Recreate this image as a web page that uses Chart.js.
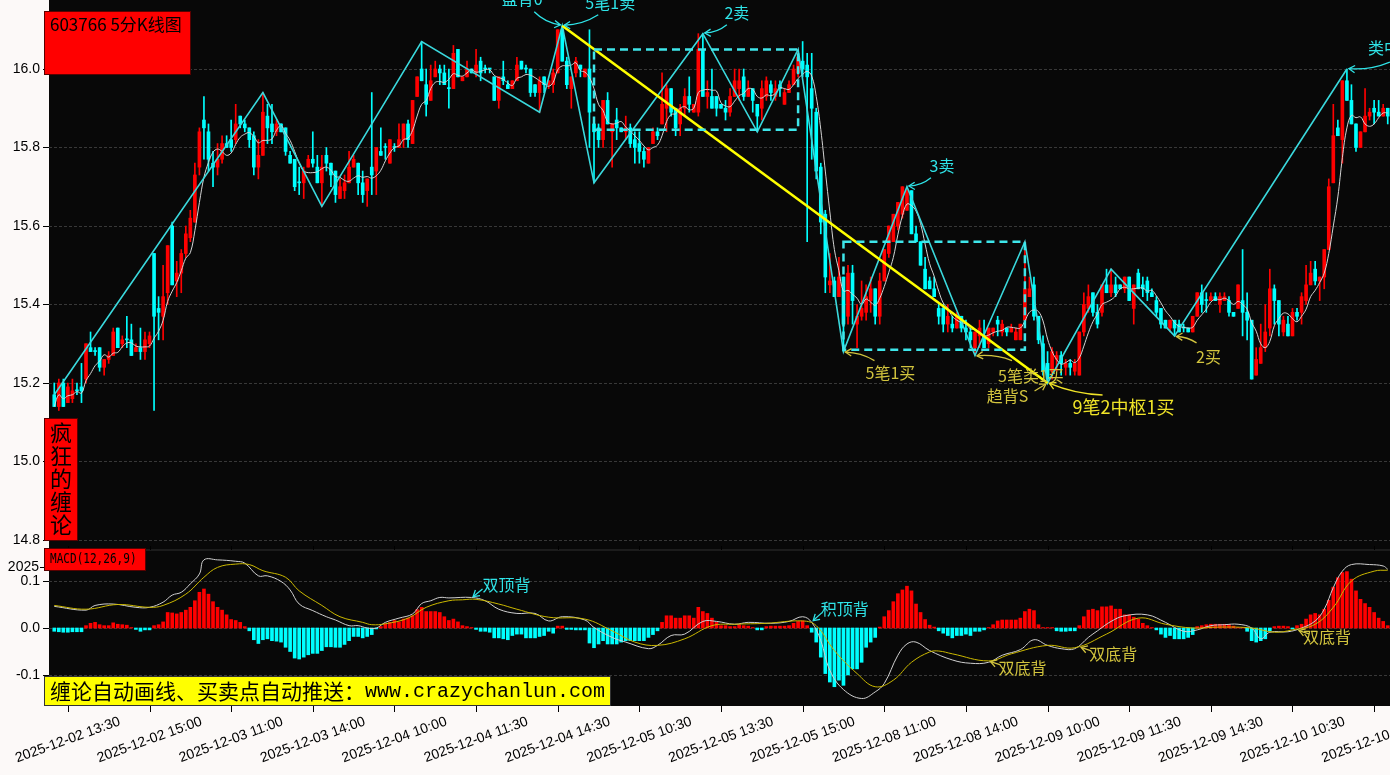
<!DOCTYPE html>
<html>
<head>
<meta charset="utf-8">
<title>603766 5分K线图</title>
<script src="https://cdn.jsdelivr.net/npm/chart.js@4.4.1/dist/chart.umd.min.js"></script>
<style>
  html, body { margin: 0; padding: 0; background: #fcf9f8; }
  #box { width: 1390px; height: 775px; }
</style>
</head>
<body>
<div id="box"><canvas id="kline" width="1390" height="775"></canvas></div>
<script>
// 603766 5-minute K-line, 2025-12-02 13:15 .. 2025-12-10 13:45

var days = ['2025-12-02', '2025-12-03', '2025-12-04', '2025-12-05', '2025-12-08', '2025-12-09', '2025-12-10'];

var opens = [
  15.17,15.14,15.20,15.15,15.16,15.18,15.19,15.21,15.29,15.28,15.29,15.24,15.26,15.27,15.34,15.30,15.31,15.31,15.28,15.29,15.28,15.30,
  15.53,15.39,15.37,15.43,15.60,15.46,15.48,15.53,15.57,15.61,15.75,15.87,15.84,15.76,15.75,15.77,15.81,15.82,15.82,15.88,15.86,15.85,15.83,15.75,
  15.78,15.88,15.86,15.84,15.86,15.85,15.78,15.77,15.71,15.71,15.75,15.77,15.75,15.71,15.78,15.76,15.74,15.67,15.69,15.71,15.75,15.76,15.71,15.69,
  15.75,15.74,15.79,15.80,15.76,15.80,15.80,15.82,15.86,15.81,15.93,16.00,15.96,15.92,15.98,16.00,15.99,15.95,15.95,16.05,15.97,15.98,16.00,15.99,
  16.02,16.00,16.00,15.98,15.92,15.98,15.96,15.95,15.97,16.02,16.00,16.00,15.96,15.94,15.98,15.96,15.96,15.99,16.10,16.02,15.95,15.99,16.01,15.98,
  16.00,15.86,15.85,15.82,15.92,15.84,15.87,15.85,15.84,15.85,15.82,15.81,15.79,15.76,15.81,15.84,15.86,15.90,15.95,15.90,15.86,15.90,15.93,15.89,
  15.89,16.05,15.93,15.93,15.93,15.91,15.90,15.89,15.93,15.95,15.98,15.93,15.95,15.91,15.90,15.93,15.96,15.93,15.96,15.91,15.94,15.96,15.99,16.02,
  16.01,15.95,15.89,15.75,15.63,15.45,15.46,15.42,15.47,15.37,15.48,15.35,15.37,15.38,15.41,15.44,15.37,15.46,15.53,15.56,15.60,15.63,15.64,15.69,
  15.58,15.56,15.49,15.46,15.44,15.39,15.39,15.35,15.35,15.34,15.37,15.34,15.33,15.29,15.32,15.32,15.30,15.33,15.36,15.33,15.34,15.33,15.31,15.31,
  15.36,15.42,15.45,15.37,15.30,15.25,15.23,15.26,15.27,15.24,15.25,15.23,15.22,15.33,15.39,15.43,15.38,15.38,15.45,15.43,15.45,15.45,15.44,15.47,
  15.39,15.48,15.45,15.46,15.43,15.41,15.39,15.36,15.34,15.36,15.35,15.34,15.34,15.33,15.37,15.43,15.41,15.41,15.42,15.40,15.41,15.41,15.38,15.39,
  15.41,15.38,15.36,15.22,15.25,15.29,15.34,15.44,15.41,15.33,15.35,15.32,15.38,15.38,15.41,15.45,15.49,15.46,15.47,15.54,15.71,15.85,15.82,15.97,
  15.92,15.86,15.80,15.84,15.88,15.90,15.89,15.88,15.90
];
var highs = [
  15.20,15.21,15.21,15.20,15.21,15.20,15.25,15.30,15.33,15.29,15.29,15.26,15.28,15.34,15.34,15.32,15.37,15.35,15.30,15.34,15.33,15.33,
  15.53,15.42,15.50,15.55,15.61,15.51,15.54,15.60,15.64,15.76,15.85,15.93,15.86,15.79,15.81,15.83,15.83,15.87,15.91,15.88,15.87,15.85,15.84,15.82,
  15.94,15.91,15.91,15.87,15.86,15.85,15.79,15.77,15.75,15.75,15.78,15.84,15.78,15.78,15.80,15.76,15.74,15.72,15.73,15.79,15.78,15.76,15.74,15.72,
  15.94,15.80,15.85,15.81,15.82,15.81,15.86,15.86,15.87,15.92,15.98,16.07,16.00,16.01,16.02,16.01,16.01,16.00,16.06,16.05,15.98,16.02,16.00,16.05,
  16.03,16.01,16.00,15.98,15.98,16.02,15.97,15.97,16.03,16.02,16.01,16.00,15.96,15.98,15.98,15.97,16.00,16.10,16.11,16.03,15.98,16.03,16.01,16.00,
  16.10,15.86,15.86,15.92,15.94,15.86,15.90,15.85,15.88,15.86,15.84,15.84,15.80,15.80,15.85,15.85,15.99,15.96,15.95,15.90,15.91,15.95,15.98,15.91,
  16.09,16.09,15.97,16.00,15.93,15.91,15.92,15.95,16.00,16.00,16.00,15.97,15.95,15.91,15.97,15.98,15.97,15.97,15.97,15.95,15.97,16.01,16.05,16.07,
  16.04,16.04,15.90,15.76,15.64,15.53,15.47,15.52,15.47,15.50,15.50,15.40,15.46,15.45,15.47,15.44,15.48,15.54,15.60,15.63,15.66,15.70,15.70,15.69,
  15.60,15.56,15.52,15.47,15.47,15.40,15.40,15.40,15.37,15.38,15.37,15.36,15.34,15.33,15.36,15.36,15.34,15.34,15.37,15.36,15.34,15.35,15.34,15.35,
  15.56,15.47,15.47,15.37,15.32,15.28,15.29,15.28,15.28,15.26,15.26,15.26,15.33,15.43,15.45,15.43,15.40,15.45,15.49,15.49,15.47,15.45,15.47,15.47,
  15.45,15.49,15.47,15.47,15.44,15.42,15.39,15.36,15.36,15.36,15.36,15.35,15.34,15.37,15.43,15.45,15.43,15.43,15.43,15.43,15.43,15.42,15.38,15.45,
  15.54,15.43,15.36,15.29,15.35,15.40,15.49,15.45,15.41,15.37,15.37,15.39,15.39,15.43,15.50,15.51,15.51,15.47,15.54,15.72,15.91,15.87,15.97,16.00,
  15.96,15.86,15.84,15.95,15.90,15.92,15.92,15.91,15.90
];
var lows = [
  15.14,15.13,15.14,15.15,15.15,15.17,15.15,15.20,15.28,15.27,15.23,15.22,15.25,15.27,15.29,15.29,15.29,15.27,15.28,15.26,15.26,15.29,
  15.13,15.31,15.31,15.40,15.45,15.42,15.43,15.52,15.56,15.61,15.73,15.77,15.74,15.70,15.73,15.76,15.80,15.79,15.81,15.85,15.84,15.80,15.73,15.72,
  15.78,15.81,15.81,15.83,15.84,15.78,15.76,15.69,15.68,15.67,15.75,15.75,15.71,15.65,15.74,15.70,15.66,15.67,15.67,15.71,15.75,15.68,15.66,15.65,
  15.68,15.68,15.78,15.77,15.76,15.79,15.80,15.80,15.80,15.81,15.93,15.97,15.88,15.92,15.98,15.96,15.96,15.90,15.95,15.98,15.97,15.98,15.99,15.98,
  15.97,15.99,15.99,15.92,15.90,15.96,15.95,15.95,15.97,16.00,15.99,15.93,15.93,15.89,15.94,15.95,15.94,15.99,16.02,15.95,15.90,15.98,15.98,15.98,
  15.80,15.71,15.80,15.80,15.86,15.75,15.82,15.84,15.82,15.80,15.76,15.76,15.75,15.76,15.81,15.82,15.86,15.84,15.88,15.83,15.83,15.88,15.89,15.89,
  15.88,15.93,15.90,15.90,15.88,15.90,15.87,15.88,15.93,15.92,15.92,15.93,15.89,15.84,15.87,15.92,15.92,15.92,15.93,15.91,15.94,15.96,15.98,15.98,
  15.56,15.77,15.72,15.58,15.43,15.43,15.42,15.42,15.28,15.35,15.35,15.29,15.36,15.36,15.38,15.35,15.35,15.46,15.52,15.56,15.59,15.62,15.64,15.58,
  15.56,15.50,15.44,15.44,15.42,15.35,15.33,15.33,15.33,15.34,15.33,15.31,15.29,15.27,15.29,15.29,15.29,15.32,15.32,15.32,15.32,15.33,15.31,15.31,
  15.36,15.42,15.36,15.30,15.22,15.20,15.21,15.23,15.22,15.22,15.22,15.22,15.22,15.32,15.38,15.37,15.34,15.37,15.43,15.42,15.42,15.44,15.43,15.41,
  15.35,15.44,15.42,15.41,15.42,15.37,15.34,15.34,15.33,15.32,15.33,15.33,15.33,15.33,15.37,15.38,15.38,15.41,15.41,15.38,15.41,15.37,15.37,15.39,
  15.32,15.31,15.21,15.22,15.25,15.28,15.32,15.35,15.32,15.32,15.32,15.32,15.36,15.35,15.40,15.45,15.45,15.41,15.44,15.54,15.71,15.83,15.76,15.92,
  15.86,15.79,15.80,15.84,15.87,15.86,15.88,15.88,15.86
];
var closes = [
  15.14,15.20,15.14,15.19,15.18,15.18,15.18,15.30,15.28,15.28,15.24,15.26,15.27,15.33,15.29,15.31,15.31,15.27,15.29,15.28,15.31,15.32,
  15.37,15.38,15.42,15.55,15.45,15.48,15.53,15.58,15.62,15.73,15.84,15.85,15.77,15.75,15.77,15.81,15.80,15.80,15.86,15.86,15.85,15.82,15.75,15.78,
  15.89,15.85,15.84,15.86,15.84,15.79,15.76,15.70,15.71,15.74,15.77,15.76,15.71,15.75,15.76,15.73,15.68,15.70,15.71,15.75,15.77,15.71,15.68,15.72,
  15.73,15.80,15.78,15.80,15.82,15.80,15.82,15.86,15.82,15.92,15.98,15.97,15.91,15.97,16.00,15.99,15.96,15.95,16.04,15.98,15.98,16.00,15.99,16.01,
  15.99,16.00,16.00,15.92,15.98,15.97,15.95,15.97,16.01,16.00,16.00,15.94,15.94,15.97,15.96,15.97,15.99,16.10,16.02,15.96,15.98,16.02,16.00,16.00,
  15.89,15.84,15.82,15.92,15.86,15.86,15.85,15.84,15.85,15.81,15.80,15.79,15.77,15.80,15.84,15.83,15.91,15.95,15.89,15.85,15.90,15.93,15.91,15.91,
  16.05,15.93,15.94,15.90,15.90,15.90,15.89,15.93,15.97,15.97,15.93,15.95,15.92,15.88,15.95,15.97,15.94,15.95,15.95,15.94,15.96,16.00,16.03,16.00,
  15.98,15.90,15.74,15.61,15.47,15.46,15.42,15.47,15.35,15.48,15.41,15.37,15.39,15.42,15.44,15.37,15.46,15.54,15.60,15.63,15.66,15.70,15.69,15.58,
  15.56,15.50,15.44,15.44,15.42,15.37,15.35,15.37,15.34,15.37,15.34,15.33,15.31,15.33,15.34,15.29,15.34,15.34,15.35,15.35,15.33,15.34,15.33,15.35,
  15.44,15.44,15.37,15.31,15.23,15.21,15.28,15.27,15.25,15.25,15.24,15.25,15.33,15.40,15.42,15.38,15.35,15.45,15.43,15.45,15.43,15.44,15.47,15.41,
  15.45,15.44,15.44,15.43,15.42,15.38,15.35,15.34,15.36,15.34,15.33,15.34,15.33,15.37,15.43,15.40,15.41,15.42,15.41,15.42,15.42,15.38,15.37,15.45,
  15.38,15.36,15.21,15.26,15.29,15.33,15.44,15.41,15.35,15.36,15.32,15.38,15.37,15.42,15.45,15.48,15.46,15.47,15.54,15.70,15.83,15.83,15.97,15.92,
  15.86,15.80,15.84,15.88,15.89,15.89,15.88,15.90,15.88
];

// 笔 (zigzag) vertices, bar index and price
var biBars = [0, 46, 59, 81, 107, 112, 119, 143, 155, 164, 174, 188, 203, 214, 219, 233, 247, 285];
var biVals = [15.17, 15.94, 15.65, 16.07, 15.89, 16.11, 15.71, 16.09, 15.84, 16.05, 15.28, 15.70, 15.27, 15.56, 15.20, 15.49, 15.32, 16.00];
// yellow trend segment
var trendBars = [112, 219];
var trendVals = [16.11, 15.20];
// 中枢 boxes: first bar, last bar, top, bottom
var hubBoxes = [[119, 164, 16.05, 15.845], [174, 214, 15.56, 15.285]];

var macdHist = [
  -0.007,-0.008,-0.009,-0.009,-0.008,-0.008,-0.008,0.005,0.010,0.012,0.007,0.005,0.005,0.011,0.008,0.007,0.006,0.001,-0.003,-0.007,-0.004,-0.004,
  0.005,0.007,0.013,0.033,0.032,0.030,0.033,0.038,0.044,0.058,0.076,0.083,0.072,0.056,0.044,0.038,0.028,0.018,0.016,0.012,0.003,-0.006,-0.025,-0.033,
  -0.025,-0.023,-0.027,-0.028,-0.030,-0.041,-0.050,-0.064,-0.066,-0.062,-0.057,-0.054,-0.054,-0.048,-0.040,-0.040,-0.041,-0.041,-0.035,-0.027,-0.018,-0.018,-0.021,-0.018,
  -0.014,-0.002,0.003,0.009,0.012,0.016,0.013,0.019,0.021,0.026,0.039,0.044,0.035,0.035,0.035,0.033,0.024,0.016,0.019,0.013,0.005,0.003,0.001,-0.003,
  -0.007,-0.007,-0.009,-0.021,-0.021,-0.023,-0.025,-0.016,-0.013,-0.013,-0.021,-0.021,-0.021,-0.018,-0.016,-0.007,-0.011,0.004,0.004,-0.003,-0.003,-0.004,-0.004,-0.004,
  -0.032,-0.042,-0.034,-0.027,-0.034,-0.034,-0.034,-0.030,-0.027,-0.027,-0.027,-0.027,-0.027,-0.020,-0.014,-0.006,0.012,0.026,0.026,0.021,0.021,0.026,0.026,0.021,
  0.044,0.035,0.031,0.021,0.012,0.005,0.005,0.003,0.003,0.007,0.005,0.004,0.001,-0.004,-0.004,0.003,0.004,0.004,0.004,0.004,0.005,0.010,0.014,0.015,
  0.005,-0.009,-0.030,-0.062,-0.097,-0.115,-0.125,-0.111,-0.122,-0.100,-0.087,-0.087,-0.073,-0.041,-0.030,-0.020,0.002,0.024,0.037,0.056,0.073,0.081,0.089,0.079,
  0.051,0.033,0.018,0.006,0.002,-0.006,-0.011,-0.016,-0.021,-0.016,-0.016,-0.013,-0.016,-0.007,-0.007,-0.004,0.001,0.007,0.015,0.017,0.017,0.017,0.017,0.021,
  0.035,0.040,0.037,0.007,0.001,0.001,0.001,-0.006,-0.007,-0.007,-0.006,-0.006,0.005,0.024,0.038,0.040,0.037,0.045,0.045,0.047,0.040,0.040,0.028,0.028,
  0.023,0.019,0.010,0.005,0.001,-0.004,-0.013,-0.020,-0.016,-0.023,-0.023,-0.023,-0.020,-0.014,0.003,0.005,0.007,0.008,0.008,0.008,0.008,0.007,0.004,0.001,
  0.001,-0.007,-0.027,-0.030,-0.027,-0.023,-0.006,0.003,0.004,0.004,0.003,-0.002,0.005,0.008,0.019,0.028,0.031,0.028,0.040,0.059,0.087,0.107,0.118,0.120,
  0.104,0.079,0.061,0.052,0.044,0.033,0.021,0.014,0.005
];
// DIF / DEA at these bars
var difBars = [0,7,9,13,18,21,24,26,28,30,32,33,36,40,42,45,47,50,52,54,57,60,62,65,67,69,71,73,76,79,81,83,85,87,92,95,98,102,106,109,112,117,119,123,126,131,133,136,139,143,146,150,153,158,162,165,167,169,171,174,178,181,183,186,188,190,193,198,202,206,209,213,216,219,222,225,228,230,233,236,241,245,249,252,255,258,261,264,266,268,272,275,278,280,282,284,286,290,293,294];
var difVals = [0.046,0.038,0.048,0.051,0.044,0.044,0.055,0.070,0.076,0.094,0.115,0.145,0.145,0.142,0.138,0.111,0.111,0.099,0.081,0.051,0.037,0.024,0.017,0.005,0.005,0.000,0.000,0.012,0.021,0.030,0.052,0.058,0.065,0.064,0.065,0.058,0.040,0.031,0.031,0.015,0.024,0.017,0.001,-0.020,-0.030,-0.044,-0.037,-0.016,-0.013,0.014,0.014,0.008,0.012,0.010,0.014,0.024,0.012,-0.027,-0.090,-0.131,-0.150,-0.136,-0.118,-0.058,-0.034,-0.030,-0.048,-0.068,-0.075,-0.073,-0.058,-0.046,-0.025,-0.037,-0.044,-0.044,-0.020,-0.006,0.014,0.026,0.028,0.012,-0.007,-0.004,0.005,0.007,0.008,0.000,-0.023,-0.009,-0.008,0.000,0.015,0.040,0.086,0.121,0.135,0.135,0.132,0.125];
var deaBars = [0,7,14,21,24,29,33,36,40,43,46,51,54,59,63,68,70,73,78,82,87,90,93,98,102,109,117,123,128,133,139,145,150,157,165,168,172,177,181,185,189,193,195,198,206,211,219,225,232,239,245,251,257,264,269,273,278,282,286,291,294];
var deaVals = [0.048,0.040,0.050,0.044,0.048,0.072,0.108,0.129,0.136,0.135,0.122,0.108,0.079,0.048,0.024,0.012,0.007,0.009,0.021,0.044,0.058,0.060,0.061,0.051,0.040,0.023,0.019,-0.006,-0.030,-0.037,-0.023,0.005,0.008,0.010,0.015,0.005,-0.048,-0.097,-0.125,-0.111,-0.073,-0.051,-0.049,-0.055,-0.070,-0.055,-0.037,-0.042,-0.013,0.021,0.008,0.000,0.002,0.000,-0.009,-0.004,0.008,0.044,0.100,0.121,0.123];

var priceTicks = [14.8, 15.0, 15.2, 15.4, 15.6, 15.8, 16.0];
var macdTicks = [0.1, 0.0, -0.1];
var tickStart = 3, tickStep = 18;

(function () {
  "use strict";

  var N = closes.length;
  var named = {opens: opens, highs: highs, lows: lows, macdHist: macdHist};
  Object.keys(named).forEach(function (k) {
    if (named[k].length !== N) throw new Error(k + ' has ' + named[k].length + ' values, closes has ' + N);
  });
  if (difBars.length !== difVals.length) throw new Error('dif ' + difBars.length + '/' + difVals.length);
  if (deaBars.length !== deaVals.length) throw new Error('dea ' + deaBars.length + '/' + deaVals.length);

  function pad(n) { return (n < 10 ? '0' : '') + n; }

  // 5-minute bars: 09:35-11:30 and 13:05-15:00, first day starts at 13:15
  function buildLabels() {
    var mins = [], m;
    for (m = 575; m <= 690; m += 5) mins.push(m);
    for (m = 785; m <= 900; m += 5) mins.push(m);
    var out = [];
    days.forEach(function (d, k) {
      mins.forEach(function (t) {
        if (k === 0 && t < 795) return;
        out.push(d + ' ' + pad(Math.floor(t / 60)) + ':' + pad(t % 60));
      });
    });
    return out.slice(0, N);
  }

  function sparse(bars, vals) {
    var out = [];
    for (var i = 0; i < N; i++) out.push(null);
    bars.forEach(function (b, k) { out[b] = vals[k]; });
    return out;
  }

  var labels = buildLabels();
  var RED = '#ff0000', CYAN = '#00ffff';
  var candleColor = closes.map(function (c, i) { return c > opens[i] ? RED : CYAN; });
  var bodies = opens.map(function (o, i) { return [Math.min(o, closes[i]), Math.max(o, closes[i])]; });
  var wicks = lows.map(function (l, i) { return [l, highs[i]]; });
  var ma5 = closes.map(function (c, i) {
    var s = 0, n = 0;
    for (var j = Math.max(0, i - 4); j <= i; j++) { s += closes[j]; n++; }
    return s / n;
  });
  var histColor = macdHist.map(function (v) { return v >= 0 ? RED : CYAN; });

  var T_CYAN = '#2fe4e8', T_YEL = '#d2c43e', T_YEL2 = '#f0e428';
  var CJK = '"Noto Sans CJK SC", "Noto Sans", sans-serif';
  var AXF = '14px "Liberation Sans", Arial, sans-serif';

  // text labels with arrows; offsets are pixels from the anchor point
  var notes = [
    {t: '盘背0', bar: 112, v: 16.11, ax: 'y', tx: -40, ty: -27, sx: -28, sy: -14, bend: 5, c: T_CYAN, f: 16},
    {t: '5笔1卖', bar: 112, v: 16.11, ax: 'y', tx: 48, ty: -23, sx: 36, sy: -11, bend: -5, c: T_CYAN, f: 16},
    {t: '2卖', bar: 143, v: 16.09, ax: 'y', tx: 34, ty: -21, sx: 24, sy: -9, bend: -4, c: T_CYAN, f: 16},
    {t: '3卖', bar: 188, v: 15.70, ax: 'y', tx: 35, ty: -21, sx: 24, sy: -9, bend: -4, c: T_CYAN, f: 16},
    {t: '5笔1买', bar: 174, v: 15.28, ax: 'y', tx: 47, ty: 21, sx: 31, sy: 9, bend: 4, c: T_YEL, f: 16},
    {t: '5笔类1买', bar: 203, v: 15.27, ax: 'y', tx: 56, ty: 20, sx: 37, sy: 5, bend: 4, c: T_YEL, f: 16},
    {t: '趋背S', bar: 219, v: 15.20, ax: 'y', tx: -40, ty: 13, sx: -13, sy: 8, bend: 0, c: T_YEL, f: 16},
    {t: '9笔2中枢1买', bar: 219, v: 15.20, ax: 'y', tx: 76, ty: 24, sx: 55, sy: 12, bend: -5, c: T_YEL2, f: 18},
    {t: '2买', bar: 247, v: 15.32, ax: 'y', tx: 34, ty: 21, sx: 22, sy: 7, bend: 3, c: T_YEL, f: 16},
    {t: '类中枢1卖', bar: 285, v: 16.00, ax: 'y', tx: 21, ty: -21, sx: 43, sy: -7, bend: -5, c: T_CYAN, f: 16, left: true},
    {t: '双顶背', bar: 92, v: 0.064, ax: 'y2', tx: 35, ty: -13, sx: 11, sy: -9, bend: 0, c: T_CYAN, f: 16},
    {t: '积顶背', bar: 167, v: 0.013, ax: 'y2', tx: 33, ty: -13, sx: 10, sy: -9, bend: 0, c: T_CYAN, f: 16},
    {t: '双底背', bar: 206, v: -0.070, ax: 'y2', tx: 34, ty: 7, sx: 12, sy: 4, bend: 0, c: T_YEL, f: 16},
    {t: '双底背', bar: 226, v: -0.040, ax: 'y2', tx: 34, ty: 7, sx: 12, sy: 4, bend: 0, c: T_YEL, f: 16},
    {t: '双底背', bar: 274, v: -0.004, ax: 'y2', tx: 30, ty: 7, sx: 12, sy: 4, bend: 0, c: T_YEL, f: 16}
  ];

  function axisText(ctx, txt, x, y, align, rot) {
    ctx.save();
    ctx.translate(x, y);
    if (rot) ctx.rotate(rot);
    ctx.font = AXF;
    ctx.textAlign = align;
    ctx.textBaseline = 'middle';
    ctx.fillText(txt, 0, 0);
    ctx.restore();
  }

  function monoText(ctx, txt, x, y, size, sx) {
    ctx.save();
    ctx.translate(x, y);
    ctx.scale(sx, 1);
    ctx.font = size + 'px "DejaVu Sans Mono", monospace';
    ctx.textAlign = 'left';
    ctx.textBaseline = 'middle';
    ctx.fillText(txt, 0, 0);
    ctx.restore();
  }

  function arrow(ctx, x0, y0, x1, y1, bend) {
    var dx = x1 - x0, dy = y1 - y0, len = Math.sqrt(dx * dx + dy * dy) || 1;
    // stop a little before the anchor
    x1 -= dx / len * 2; y1 -= dy / len * 2;
    var cx = (x0 + x1) / 2 - dy / len * bend, cy = (y0 + y1) / 2 + dx / len * bend;
    ctx.beginPath();
    ctx.moveTo(x0, y0);
    ctx.quadraticCurveTo(cx, cy, x1, y1);
    ctx.stroke();
    var a = Math.atan2(y1 - cy, x1 - cx);
    ctx.beginPath();
    ctx.moveTo(x1 - 7 * Math.cos(a - 0.55), y1 - 7 * Math.sin(a - 0.55));
    ctx.lineTo(x1, y1);
    ctx.lineTo(x1 - 7 * Math.cos(a + 0.55), y1 - 7 * Math.sin(a + 0.55));
    ctx.stroke();
  }

  var panelPlugin = {
    id: 'panel',
    beforeDraw: function (chart) {
      var ctx = chart.ctx, a = chart.chartArea, ys = chart.scales.y, ys2 = chart.scales.y2;
      ctx.save();
      ctx.fillStyle = '#fcf9f8';
      ctx.fillRect(0, 0, chart.width, chart.height);
      ctx.fillStyle = '#080808';
      ctx.fillRect(49, a.top, a.right - 49, a.bottom - a.top);
      // dotted grid
      ctx.strokeStyle = '#383838';
      ctx.lineWidth = 1;
      ctx.setLineDash([3, 2]);
      priceTicks.forEach(function (v) {
        var y = Math.round(ys.getPixelForValue(v)) + 0.5;
        ctx.beginPath(); ctx.moveTo(49, y); ctx.lineTo(a.right, y); ctx.stroke();
      });
      macdTicks.forEach(function (v) {
        var y = Math.round(ys2.getPixelForValue(v)) + 0.5;
        ctx.beginPath(); ctx.moveTo(49, y); ctx.lineTo(a.right, y); ctx.stroke();
      });
      ctx.setLineDash([]);
      // border between the two panels
      ctx.fillStyle = '#1c1c1c';
      ctx.fillRect(49, ys.bottom - 1, a.right - 49, 2);
      ctx.restore();
    },
    afterDatasetsDraw: function (chart) {
      var ctx = chart.ctx, xs = chart.scales.x, ys = chart.scales.y;
      ctx.save();
      // 中枢 boxes
      ctx.strokeStyle = '#3ee6ea';
      ctx.lineWidth = 2.5;
      ctx.setLineDash([8, 5]);
      hubBoxes.forEach(function (b) {
        var x0 = xs.getPixelForValue(b[0]), x1 = xs.getPixelForValue(b[1]);
        var y0 = ys.getPixelForValue(b[2]), y1 = ys.getPixelForValue(b[3]);
        ctx.strokeRect(x0, y0, x1 - x0, y1 - y0);
      });
      ctx.setLineDash([]);
      // notes
      notes.forEach(function (n) {
        var sc = chart.scales[n.ax];
        var px = xs.getPixelForValue(n.bar), py = sc.getPixelForValue(n.v);
        ctx.strokeStyle = n.c;
        ctx.fillStyle = n.c;
        ctx.lineWidth = 1.3;
        arrow(ctx, px + n.sx, py + n.sy, px, py, n.bend);
        ctx.font = n.f + 'px ' + CJK;
        ctx.textAlign = n.left ? 'left' : 'center';
        ctx.textBaseline = 'middle';
        ctx.fillText(n.t, px + n.tx, py + n.ty);
      });
      ctx.restore();
    },
    afterDraw: function (chart) {
      var ctx = chart.ctx, a = chart.chartArea, xs = chart.scales.x, ys = chart.scales.y, ys2 = chart.scales.y2;
      ctx.save();
      ctx.fillStyle = '#000';
      // y labels and ticks
      priceTicks.forEach(function (v) {
        var y = ys.getPixelForValue(v);
        axisText(ctx, v.toFixed(1), 40, y, 'right');
        ctx.fillRect(43, Math.round(y), 6, 1);
      });
      macdTicks.forEach(function (v) {
        var y = ys2.getPixelForValue(v);
        axisText(ctx, v.toFixed(1), 40, y, 'right');
        ctx.fillRect(43, Math.round(y), 6, 1);
      });
      axisText(ctx, '2025', 39, 567, 'right');
      ctx.fillRect(40, 567, 9, 1);
      // x labels
      for (var i = tickStart; i < labels.length; i += tickStep) {
        var x = xs.getPixelForValue(i);
        ctx.fillRect(Math.round(x), a.bottom, 1, 6);
        ctx.fillRect(Math.round(x), ys.bottom - 4, 1, 4);
        axisText(ctx, labels[i], x, 740, 'center', -20 * Math.PI / 180);
      }
      // title box
      ctx.fillStyle = '#ff0000';
      ctx.fillRect(44, 11, 147, 64);
      ctx.strokeStyle = '#5a0000';
      ctx.lineWidth = 1;
      ctx.strokeRect(44.5, 11.5, 146, 63);
      ctx.fillStyle = '#000';
      ctx.font = '17px ' + CJK;
      ctx.textAlign = 'left';
      ctx.textBaseline = 'middle';
      ctx.fillText('603766 5分K线图', 50, 25);
      // vertical name box
      ctx.fillStyle = '#ff0000';
      ctx.fillRect(44, 418, 34, 123);
      ctx.strokeRect(44.5, 418.5, 33, 122);
      ctx.fillStyle = '#000';
      ctx.font = '22px ' + CJK;
      ctx.textAlign = 'center';
      '疯狂的缠论'.split('').forEach(function (ch, k) {
        ctx.fillText(ch, 61, 433 + k * 23);
      });
      // MACD box
      ctx.fillStyle = '#ff0000';
      ctx.fillRect(44, 548, 102, 23);
      ctx.strokeRect(44.5, 548.5, 101, 22);
      ctx.fillStyle = '#000';
      monoText(ctx, 'MACD(12,26,9)', 50, 559, 14, 0.79);
      // banner
      ctx.fillStyle = '#ffff00';
      ctx.fillRect(44, 676, 567, 30);
      ctx.strokeStyle = '#333';
      ctx.strokeRect(44.5, 676.5, 566, 29);
      ctx.fillStyle = '#000';
      ctx.font = '21px ' + CJK;
      ctx.textAlign = 'left';
      var cn = '缠论自动画线、买卖点自动推送：';
      ctx.fillText(cn, 50, 691);
      var w = ctx.measureText(cn).width;
      ctx.font = '20px "Liberation Mono", "DejaVu Sans Mono", monospace';
      ctx.fillText('www.crazychanlun.com', 50 + w, 692);
      ctx.restore();
    }
  };

  var ctx = document.getElementById('kline').getContext('2d');
  new Chart(ctx, {
    type: 'bar',
    data: {
      labels: labels,
      datasets: [
        {type: 'bar', label: 'body', data: bodies, backgroundColor: candleColor, barThickness: 3, minBarLength: 1, grouped: false, yAxisID: 'y', order: 4},
        {type: 'bar', label: 'wick', data: wicks, backgroundColor: candleColor, barThickness: 1, grouped: false, yAxisID: 'y', order: 5},
        {type: 'line', label: 'MA5', data: ma5, borderColor: '#d4d4d4', borderWidth: 1, pointRadius: 0, tension: 0.4, yAxisID: 'y', order: 3},
        {type: 'line', label: '笔', data: sparse(biBars, biVals), spanGaps: true, borderColor: '#3ad8dc', borderWidth: 1.6, pointRadius: 0, tension: 0, yAxisID: 'y', order: 2},
        {type: 'line', label: 'trend', data: sparse(trendBars, trendVals), spanGaps: true, borderColor: '#ffff00', borderWidth: 2.6, pointRadius: 0, tension: 0, yAxisID: 'y', order: 1},
        {type: 'bar', label: 'MACD', data: macdHist, backgroundColor: histColor, barThickness: 3, grouped: false, yAxisID: 'y2', order: 5},
        {type: 'line', label: 'DIF', data: sparse(difBars, difVals), spanGaps: true, borderColor: '#d0d0d0', borderWidth: 1, pointRadius: 0, tension: 0.4, yAxisID: 'y2', order: 3},
        {type: 'line', label: 'DEA', data: sparse(deaBars, deaVals), spanGaps: true, borderColor: '#cbb800', borderWidth: 1, pointRadius: 0, tension: 0.4, yAxisID: 'y2', order: 2}
      ]
    },
    options: {
      responsive: false,
      animation: false,
      events: [],
      layout: {padding: {left: 3, right: 0, top: 0, bottom: 69}},
      plugins: {legend: {display: false}, tooltip: {enabled: false}},
      scales: {
        x: {type: 'category', display: false, offset: true, grid: {display: false}},
        y: {
          type: 'linear', position: 'left', stack: 'k', stackWeight: 550, weight: 1,
          min: 14.7745, max: 16.1758,
          ticks: {display: false}, grid: {display: false, drawTicks: false}, border: {display: false},
          afterFit: function (s) { s.width = 49; }
        },
        y2: {
          type: 'linear', position: 'left', stack: 'k', stackWeight: 156, weight: 0,
          min: -0.166, max: 0.166,
          ticks: {display: false}, grid: {display: false, drawTicks: false}, border: {display: false},
          afterFit: function (s) { s.width = 49; }
        }
      }
    },
    plugins: [panelPlugin]
  });
})();
</script>
</body>
</html>
